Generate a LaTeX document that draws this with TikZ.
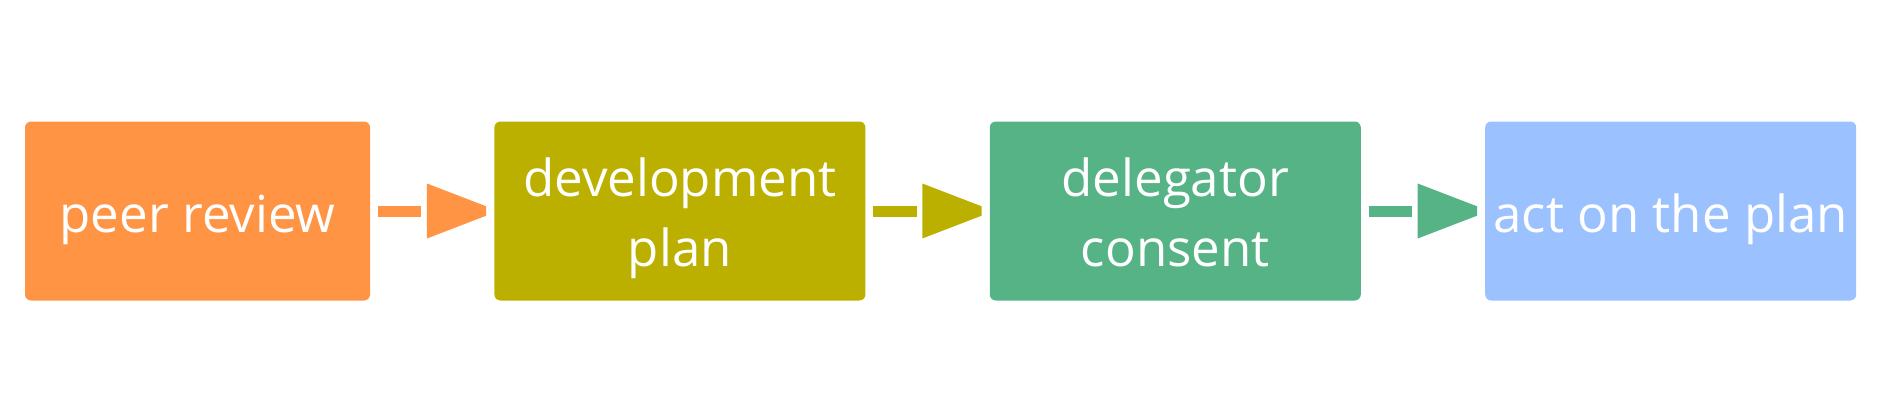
\documentclass[tikz,border=0pt]{standalone}
\usepackage{fontspec}
\setmainfont{Open Sans}
\usetikzlibrary{positioning,calc}

\definecolor{reviewcol}{HTML}{FF9445}
\definecolor{plancol}{HTML}{BBB000}
\definecolor{consentcol}{HTML}{56B385}
\definecolor{actcol}{HTML}{9BC1FE}

\begin{document}
\begin{tikzpicture}[x=1pt,y=1pt,node distance=124pt,
  stage/.style={rectangle,rounded corners=6pt,minimum height=179pt,inner sep=0pt,
    text=white,align=center,font=\fontsize{51}{70}\selectfont,
    text height=50pt,text depth=7.4pt},
  twoline/.style={text height=120pt,text depth=8.6pt},
  flowbar/.style={line width=11pt,shorten <=7.7pt,shorten >=73pt}]
\useasboundingbox (0,0) rectangle (1886,408);
\node [stage,fill=reviewcol,minimum width=345pt] (review) at (197.5,197) {peer review};
\node [stage,twoline,fill=plancol,minimum width=371pt,right=of review] (plan) {development\\plan};
\node [stage,twoline,fill=consentcol,minimum width=371pt,right=of plan] (consent) {delegator\\consent};
\node [stage,fill=actcol,minimum width=371pt,right=of consent] (act) {act on the plan};
% arrows between the stages
\draw [flowbar,reviewcol] (review.east) -- (plan.west);
\fill [reviewcol] ($(plan.west)+(-67.3,27.5)$) -- ($(plan.west)+(-8,4.7)$)
  -- ($(plan.west)+(-8,-4.7)$) -- ($(plan.west)+(-67.3,-27.5)$) -- cycle;
\draw [flowbar,plancol] (plan.east) -- (consent.west);
\fill [plancol] ($(consent.west)+(-67.3,27.5)$) -- ($(consent.west)+(-8,4.7)$)
  -- ($(consent.west)+(-8,-4.7)$) -- ($(consent.west)+(-67.3,-27.5)$) -- cycle;
\draw [flowbar,consentcol] (consent.east) -- (act.west);
\fill [consentcol] ($(act.west)+(-67.3,27.5)$) -- ($(act.west)+(-8,4.7)$)
  -- ($(act.west)+(-8,-4.7)$) -- ($(act.west)+(-67.3,-27.5)$) -- cycle;
\end{tikzpicture}
\end{document}
